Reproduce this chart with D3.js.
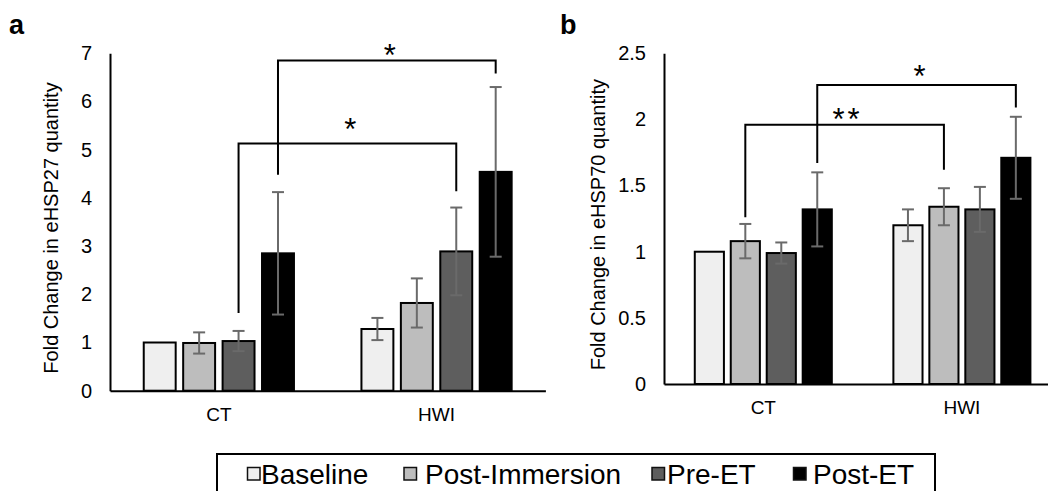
<!DOCTYPE html>
<html>
<head>
<meta charset="utf-8">
<script src="https://cdn.jsdelivr.net/npm/d3@7"></script>
<style>
  html, body { margin: 0; padding: 0; background: #fff; }
  svg { display: block; }
  text { font-family: "Liberation Sans", Arial, sans-serif; fill: #000; }
</style>
</head>
<body>
<svg id="chart" width="1048" height="491"></svg>
<script>
// ---------- data ----------
const categories = ["CT", "HWI"];
const seriesNames = ["Baseline", "Post-Immersion", "Pre-ET", "Post-ET"];
const seriesColors = ["#efefef", "#bdbdbd", "#5e5e5e", "#000000"];

const hsp27Values = [[1.00, 0.99, 1.03, 2.85], [1.28, 1.82, 2.89, 4.54]];
const hsp27Errors = [[0.00, 0.22, 0.21, 1.27], [0.23, 0.51, 0.91, 1.76]];
const hsp27Ticks = [0, 1, 2, 3, 4, 5, 6, 7];
const hsp27Brackets = [
  { from: [0, 2], fromEnd: 1.61, to: [1, 2], toEnd: 4.14, top: 5.13, label: "*", labelAt: 5.56 },
  { from: [0, 3], fromEnd: 4.48, to: [1, 3], toEnd: 6.58, top: 6.85, label: "*", labelAt: 7.09 }
];

const hsp70Values = [[1.00, 1.08, 0.99, 1.32], [1.20, 1.34, 1.32, 1.71]];
const hsp70Errors = [[0.00, 0.13, 0.08, 0.28], [0.12, 0.14, 0.17, 0.31]];
const hsp70Ticks = [0, 0.5, 1, 1.5, 2, 2.5];
const hsp70Brackets = [
  { from: [0, 1], fromEnd: 1.26, to: [1, 1], toEnd: 1.62, top: 1.96, label: "**", labelAt: 2.05 },
  { from: [0, 3], fromEnd: 1.67, to: [1, 3], toEnd: 2.09, top: 2.26, label: "*", labelAt: 2.37 }
];

// ---------- drawing ----------
const svg = d3.select("#chart");

function panel(cfg) {
  const g = svg.append("g");
  const y = d3.scaleLinear().domain([0, cfg.yMax]).range([cfg.y0, cfg.y1]);
  const x = d3.scaleBand().domain(categories).range([cfg.x0, cfg.x1]);
  const span = x.bandwidth() * 0.69;
  const inner = d3.scaleBand().domain(d3.range(seriesNames.length))
    .range([-span / 2, span / 2]).paddingInner(0.19).paddingOuter(0);

  // panel letter
  g.append("text").attr("x", cfg.letterX).attr("y", 34)
    .attr("font-size", 27).attr("font-weight", "bold").text(cfg.letter);

  // y axis (no ticks, labels only)
  const yAxis = d3.axisLeft(y).tickValues(cfg.ticks).tickSize(0).tickPadding(0)
    .tickFormat(d3.format("~g"));
  const ya = g.append("g").attr("transform", `translate(${cfg.x0},0)`).call(yAxis);
  ya.attr("font-size", null).attr("font-family", null);
  ya.select(".domain").attr("stroke", "#000").attr("stroke-width", 2);
  ya.selectAll(".tick text").attr("x", cfg.tickRight - cfg.x0)
    .attr("font-size", 20).attr("fill", "#000");

  // x axis
  const xAxis = d3.axisBottom(x).tickSize(0).tickPadding(0);
  const xa = g.append("g").attr("transform", `translate(0,${cfg.y0})`).call(xAxis);
  xa.attr("font-size", null).attr("font-family", null);
  xa.select(".domain").attr("stroke", "#000").attr("stroke-width", 2);
  xa.selectAll(".tick text").attr("y", 30).attr("dy", 0)
    .attr("font-size", 19).attr("fill", "#000");

  // y title
  g.append("text")
    .attr("transform", `translate(${cfg.titleX},${(cfg.y0 + cfg.y1) / 2 + 6}) rotate(-90)`)
    .attr("text-anchor", "middle").attr("font-size", 20).text(cfg.title);

  const barX = (c, s) => x(categories[c]) + x.bandwidth() / 2 + inner(s);
  const barCx = (c, s) => barX(c, s) + inner.bandwidth() / 2;

  // bars
  const data = [];
  cfg.values.forEach((row, c) => row.forEach((v, s) => data.push({ c, s, v, e: cfg.errors[c][s] })));
  g.selectAll("rect.bar").data(data).enter().append("rect")
    .attr("class", "bar")
    .attr("x", d => barX(d.c, d.s))
    .attr("y", d => y(d.v))
    .attr("width", inner.bandwidth())
    .attr("height", d => y(0) - y(d.v))
    .attr("fill", d => seriesColors[d.s])
    .attr("stroke", "#000").attr("stroke-width", 2);

  // error bars
  const cap = 6;
  const eb = g.selectAll("g.err").data(data.filter(d => d.e > 0)).enter().append("g")
    .attr("stroke", "#6a6a6a").attr("stroke-width", 2);
  eb.append("line")
    .attr("x1", d => barCx(d.c, d.s)).attr("x2", d => barCx(d.c, d.s))
    .attr("y1", d => y(d.v + d.e)).attr("y2", d => y(d.v - d.e));
  eb.append("line")
    .attr("x1", d => barCx(d.c, d.s) - cap).attr("x2", d => barCx(d.c, d.s) + cap)
    .attr("y1", d => y(d.v + d.e)).attr("y2", d => y(d.v + d.e));
  eb.append("line")
    .attr("x1", d => barCx(d.c, d.s) - cap).attr("x2", d => barCx(d.c, d.s) + cap)
    .attr("y1", d => y(d.v - d.e)).attr("y2", d => y(d.v - d.e));

  // significance brackets
  cfg.brackets.forEach(b => {
    const xa1 = barCx(b.from[0], b.from[1]);
    const xa2 = barCx(b.to[0], b.to[1]);
    g.append("path")
      .attr("d", `M${xa1},${y(b.fromEnd)}V${y(b.top)}H${xa2}V${y(b.toEnd)}`)
      .attr("fill", "none").attr("stroke", "#000").attr("stroke-width", 2);
    g.append("text")
      .attr("x", (xa1 + xa2) / 2 + 3).attr("y", y(b.labelAt) + 17)
      .attr("text-anchor", "middle").attr("font-size", 31)
      .attr("letter-spacing", b.label.length > 1 ? 3 : 0)
      .text(b.label);
  });
}

panel({
  letter: "a", letterX: 9, title: "Fold Change in eHSP27 quantity", titleX: 57.5,
  yMax: 7, y0: 390.7, y1: 53.3, x0: 110, x1: 545.4, tickRight: 92,
  ticks: hsp27Ticks, values: hsp27Values, errors: hsp27Errors, brackets: hsp27Brackets
});
panel({
  letter: "b", letterX: 560, title: "Fold Change in eHSP70 quantity", titleX: 605,
  yMax: 2.5, y0: 384, y1: 53.3, x0: 664, x1: 1061.2, tickRight: 646,
  ticks: hsp70Ticks, values: hsp70Values, errors: hsp70Errors, brackets: hsp70Brackets
});

// ---------- legend ----------
const legendX = [247.5, 404, 652, 793.5];
const legendTextX = [261, 425, 667, 813];
const lg = svg.append("g");
lg.append("path").attr("d", "M217,495V454H935V495")
  .attr("fill", "none").attr("stroke", "#000").attr("stroke-width", 2);
seriesNames.forEach((name, i) => {
  lg.append("rect").attr("x", legendX[i]).attr("y", 467.5).attr("width", 12.5).attr("height", 12.5)
    .attr("fill", seriesColors[i]).attr("stroke", "#111").attr("stroke-width", 1.5);
  lg.append("text").attr("x", legendTextX[i]).attr("y", 484)
    .attr("font-size", 28).text(name);
});
</script>
</body>
</html>
